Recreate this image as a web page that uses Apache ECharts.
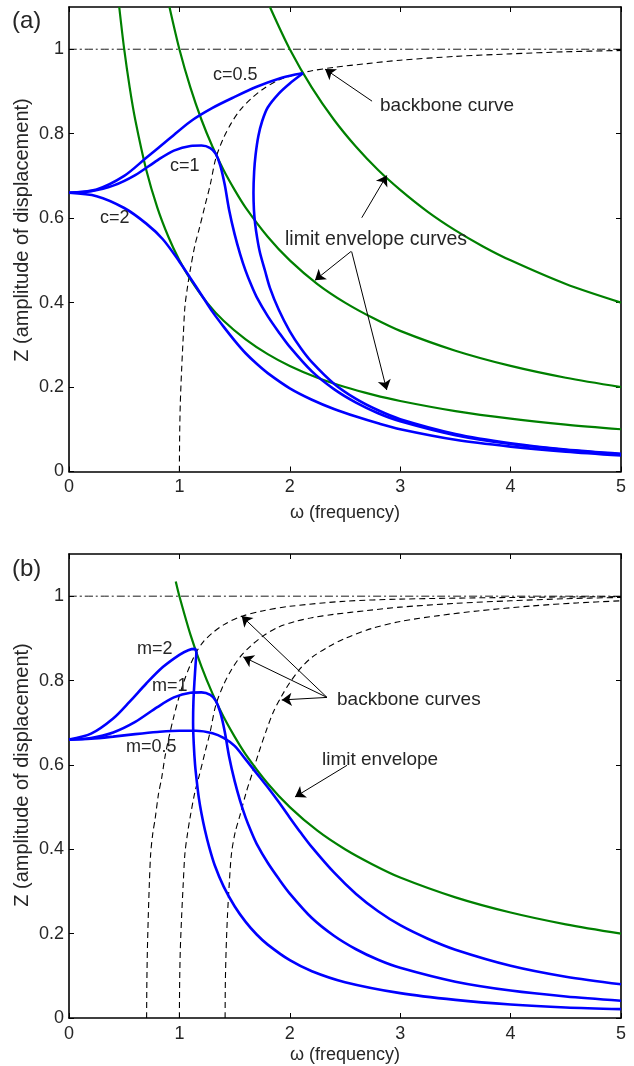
<!DOCTYPE html>
<html>
<head>
<meta charset="utf-8">
<title>Frequency response curves</title>
<script src="https://cdn.jsdelivr.net/npm/echarts@6/dist/echarts.min.js"></script>
<style>
html,body{margin:0;padding:0;background:#fff}
#chart{width:634px;height:1066px}
</style>
</head>
<body>
<div id="chart"></div>
<script>
// ticks of both panels
var xTicks = [0, 1, 2, 3, 4, 5];
var yTicks = [0, 0.2, 0.4, 0.6, 0.8, 1];
var unity = [[0, 1], [5, 1]];

// (a) response curves, [omega, Z]
var respC05Up = [[0,0.66],[0.25,0.668],[0.5,0.70],[0.7,0.743],[0.9,0.786],[1.1,0.829],[1.3,0.861],[1.5,0.887],[1.7,0.911],[1.9,0.93],[2.05,0.94],[2.12,0.943]];
var respC05Down = [[2.12,0.943],[2.0,0.919],[1.9,0.895],[1.8,0.862],[1.75,0.83],[1.715,0.794],[1.69,0.75],[1.677,0.71],[1.671,0.66],[1.675,0.62],[1.685,0.589],[1.705,0.552],[1.73,0.518],[1.775,0.476],[1.82,0.435],[1.9,0.383],[2.0,0.332],[2.1,0.292],[2.2,0.259],[2.4,0.208],[2.6,0.172],[2.8,0.145],[3.0,0.124],[3.5,0.089],[4.0,0.067],[4.5,0.052],[5.0,0.042]];
var respC1 = [[0,0.66],[0.2,0.664],[0.4,0.677],[0.6,0.702],[0.8,0.737],[0.95,0.76],[1.1,0.771],[1.2,0.772],[1.28,0.766],[1.33,0.752],[1.37,0.725],[1.41,0.68],[1.45,0.62],[1.5,0.562],[1.55,0.515],[1.6,0.475],[1.65,0.442],[1.7,0.413],[1.8,0.368],[1.9,0.33],[2.0,0.295],[2.2,0.237],[2.4,0.195],[2.6,0.163],[2.8,0.138],[3.0,0.119],[3.5,0.086],[4.0,0.065],[4.5,0.051],[5.0,0.041]];
var respC2 = [[0,0.66],[0.25,0.652],[0.5,0.624],[0.7,0.587],[0.85,0.55],[1.0,0.497],[1.1,0.458],[1.2,0.418],[1.3,0.378],[1.4,0.343],[1.5,0.31],[1.6,0.28],[1.7,0.255],[1.8,0.233],[2.0,0.197],[2.2,0.17],[2.4,0.148],[2.6,0.13],[2.8,0.114],[3.0,0.1],[3.5,0.075],[4.0,0.059],[4.5,0.047],[5.0,0.038]];
var backboneA = [[1.0,0],[1.002,0.08],[1.008,0.16],[1.02,0.24],[1.035,0.32],[1.05,0.39],[1.075,0.44],[1.1,0.48],[1.14,0.535],[1.18,0.575],[1.23,0.628],[1.28,0.68],[1.33,0.742],[1.4,0.79],[1.47,0.825],[1.55,0.856],[1.65,0.883],[1.76,0.906],[1.9,0.927],[2.05,0.94],[2.2,0.949],[2.4,0.957],[2.7,0.966],[3.0,0.974],[3.5,0.983],[4.0,0.989],[4.5,0.994],[5.0,0.997]];
var envA05 = [[0.455,1.1],[0.5,1.0],[0.55,0.909],[0.6,0.833],[0.7,0.714],[0.8,0.625],[0.9,0.556],[1.0,0.5],[1.1,0.455],[1.25,0.4],[1.4,0.357],[1.6,0.313],[1.8,0.278],[2.0,0.25],[2.25,0.222],[2.5,0.2],[2.75,0.182],[3.0,0.167],[3.5,0.143],[4.0,0.125],[4.5,0.111],[5.0,0.1]];
var envA1 = [[0.91,1.1],[1.0,1.0],[1.1,0.909],[1.2,0.833],[1.3,0.769],[1.4,0.714],[1.5,0.667],[1.6,0.625],[1.8,0.556],[2.0,0.5],[2.25,0.444],[2.5,0.4],[2.75,0.364],[3.0,0.333],[3.5,0.286],[4.0,0.25],[4.5,0.222],[5.0,0.2]];
var envA2 = [[1.82,1.1],[2.0,1.0],[2.2,0.909],[2.4,0.833],[2.6,0.769],[2.8,0.714],[3.0,0.667],[3.25,0.615],[3.5,0.571],[3.75,0.533],[4.0,0.5],[4.5,0.444],[5.0,0.4]];

// (b) response curves for m = 2, 1, 0.5
var respM2Up = [[0,0.66],[0.2,0.674],[0.4,0.71],[0.55,0.75],[0.7,0.793],[0.85,0.832],[1.0,0.861],[1.08,0.872],[1.14,0.875],[1.155,0.868]];
var respM2Down = [[1.155,0.868],[1.147,0.84],[1.137,0.80],[1.127,0.75],[1.124,0.70],[1.13,0.65],[1.142,0.60],[1.158,0.56],[1.177,0.52],[1.2,0.485],[1.23,0.447],[1.27,0.405],[1.32,0.362],[1.4,0.312],[1.5,0.265],[1.6,0.228],[1.7,0.198],[1.8,0.174],[2.0,0.137],[2.2,0.111],[2.5,0.085],[3.0,0.059],[3.5,0.043],[4.0,0.032],[4.5,0.025],[5.0,0.021]];
var respM1 = respC1; // m=1 is the c=1 curve of (a)
var respM05 = [[0,0.66],[0.2,0.662],[0.4,0.667],[0.6,0.673],[0.8,0.678],[1.0,0.681],[1.15,0.681],[1.3,0.675],[1.4,0.664],[1.5,0.645],[1.6,0.613],[1.7,0.58],[1.8,0.547],[1.9,0.512],[2.0,0.475],[2.1,0.439],[2.2,0.405],[2.4,0.345],[2.6,0.294],[2.8,0.253],[3.0,0.22],[3.25,0.188],[3.5,0.162],[4.0,0.124],[4.5,0.098],[5.0,0.08]];
var backboneM2 = [[0.703,0],[0.705,0.08],[0.71,0.16],[0.718,0.24],[0.728,0.32],[0.74,0.39],[0.76,0.44],[0.779,0.47],[0.81,0.53],[0.84,0.57],[0.87,0.62],[0.905,0.665],[0.945,0.71],[0.99,0.755],[1.04,0.797],[1.1,0.838],[1.155,0.868],[1.22,0.893],[1.3,0.913],[1.4,0.932],[1.55,0.951],[1.75,0.965],[2.0,0.976],[2.5,0.988],[3.0,0.993],[4.0,0.997],[5.0,0.999]];
var backboneM1 = backboneA;
var backboneM05 = [[1.414,0],[1.416,0.08],[1.423,0.16],[1.435,0.24],[1.452,0.32],[1.472,0.39],[1.505,0.44],[1.548,0.48],[1.605,0.535],[1.66,0.58],[1.72,0.63],[1.785,0.68],[1.85,0.725],[1.93,0.765],[2.0,0.795],[2.1,0.83],[2.2,0.855],[2.35,0.88],[2.5,0.9],[2.75,0.924],[3.0,0.94],[3.35,0.954],[3.7,0.965],[4.2,0.977],[4.6,0.984],[5.0,0.989]];
var envB = [[0.967,1.035],[1.0,1.0],[1.1,0.909],[1.2,0.833],[1.3,0.769],[1.4,0.714],[1.5,0.667],[1.6,0.625],[1.8,0.556],[2.0,0.5],[2.25,0.444],[2.5,0.4],[2.75,0.364],[3.0,0.333],[3.5,0.286],[4.0,0.25],[4.5,0.222],[5.0,0.2]];

var font = '"Liberation Sans", Arial, Helvetica, sans-serif';
var ink = '#262626';
var BLUE = '#0000ff', GREEN = '#008000';

function xAxes(grid, gap) {
    var line = {onZero: false, lineStyle: {color: '#000', width: 1.6}};
    var tick = {inside: true, length: 5, customValues: xTicks, lineStyle: {color: '#000', width: 1}};
    return [{
        gridIndex: grid, type: 'value', min: 0, max: 5, position: 'bottom',
        axisLine: line, axisTick: tick, splitLine: {show: false},
        axisLabel: {customValues: xTicks, margin: 7, color: ink, fontSize: 18, fontFamily: font},
        name: 'ω (frequency)', nameLocation: 'middle', nameGap: gap,
        nameTextStyle: {color: ink, fontSize: 18, fontFamily: font}
    }, {
        gridIndex: grid, type: 'value', min: 0, max: 5, position: 'top',
        axisLine: line, axisTick: tick, splitLine: {show: false}, axisLabel: {show: false}
    }];
}
function yAxes(grid) {
    var line = {onZero: false, lineStyle: {color: '#000', width: 1.6}};
    var tick = {inside: true, length: 5, customValues: yTicks, lineStyle: {color: '#000', width: 1}};
    return [{
        gridIndex: grid, type: 'value', min: 0, max: 1.1, position: 'left',
        axisLine: line, axisTick: tick, splitLine: {show: false},
        axisLabel: {customValues: yTicks, margin: 5, color: ink, fontSize: 18, fontFamily: font}
    }, {
        gridIndex: grid, type: 'value', min: 0, max: 1.1, position: 'right',
        axisLine: line, axisTick: tick, splitLine: {show: false}, axisLabel: {show: false}
    }];
}
function curve(data, ax, color, width, type, z) {
    return {
        type: 'line', data: data, xAxisIndex: ax, yAxisIndex: ax,
        showSymbol: false, smooth: 0.3, z: z, silent: true,
        lineStyle: {color: color, width: width, type: type}
    };
}
function arrows(pairs) {
    return {
        silent: true, symbol: ['none', 'arrow'], symbolSize: 10,
        label: {show: false}, emphasis: {disabled: true},
        lineStyle: {color: '#000', width: 1, type: 'solid'},
        data: pairs.map(function (p) { return [{coord: p[0]}, {coord: p[1]}]; })
    };
}
function txt(s, x, y, size, extra) {
    var el = {type: 'text', x: x, y: y, z: 100,
        style: {text: s, fill: ink, font: size + 'px ' + font,
            align: 'left', textAlign: 'left', verticalAlign: 'middle', textVerticalAlign: 'middle'}};
    if (extra) { for (var k in extra) el[k] = extra[k]; }
    return el;
}

var dash = [6, 4], dashDot = [8, 3, 2, 3];

var unityA = curve(unity, 0, '#000', 0.9, dashDot, 1);
unityA.markLine = arrows([
    [[2.745, 0.877], [2.319, 0.953]],
    [[2.652, 0.601], [2.878, 0.701]],
    [[2.554, 0.521], [2.228, 0.453]],
    [[2.56, 0.521], [2.878, 0.193]]
]);
var unityB = curve(unity, 2, '#000', 0.9, dashDot, 1);
unityB.markLine = arrows([
    [[2.337, 0.76], [1.564, 0.953]],
    [[2.337, 0.76], [1.579, 0.856]],
    [[2.337, 0.76], [1.927, 0.754]],
    [[2.518, 0.599], [2.047, 0.524]]
]);

var yRot = {rotation: Math.PI / 2};
function centred(el) { el.style.align = 'center'; el.style.textAlign = 'center'; return el; }

var option = {
    animation: false,
    grid: [
        {left: 69, top: 7, width: 552, height: 464.5},
        {left: 69, top: 554, width: 552, height: 464}
    ],
    xAxis: xAxes(0, 33).concat(xAxes(1, 28)),
    yAxis: yAxes(0).concat(yAxes(1)),
    series: [
        unityA,
        curve(backboneA, 0, '#000', 1.1, dash, 2),
        curve(envA05, 0, GREEN, 2.2, 'solid', 3),
        curve(envA1, 0, GREEN, 2.2, 'solid', 3),
        curve(envA2, 0, GREEN, 2.2, 'solid', 3),
        curve(respC2, 0, BLUE, 2.6, 'solid', 4),
        curve(respC1, 0, BLUE, 2.6, 'solid', 4),
        curve(respC05Up, 0, BLUE, 2.6, 'solid', 4),
        curve(respC05Down, 0, BLUE, 2.6, 'solid', 4),

        unityB,
        curve(backboneM2, 2, '#000', 1.1, dash, 2),
        curve(backboneM1, 2, '#000', 1.1, dash, 2),
        curve(backboneM05, 2, '#000', 1.1, dash, 2),
        curve(envB, 2, GREEN, 2.2, 'solid', 3),
        curve(respM05, 2, BLUE, 2.6, 'solid', 4),
        curve(respM1, 2, BLUE, 2.6, 'solid', 4),
        curve(respM2Up, 2, BLUE, 2.6, 'solid', 4),
        curve(respM2Down, 2, BLUE, 2.6, 'solid', 4)
    ],
    graphic: [
        txt('(a)', 12, 21, 24),
        txt('c=0.5', 213, 75, 18),
        txt('c=1', 170, 166, 18),
        txt('c=2', 100, 218, 18),
        txt('backbone curve', 380, 106, 19),
        txt('limit envelope curves', 285, 240, 19.5),
        centred(txt('Z (amplitude of displacement)', 22, 230, 20, yRot)),

        txt('(b)', 12, 569, 24),
        txt('m=2', 137, 649, 18),
        txt('m=1', 152, 686, 18),
        txt('m=0.5', 126, 747, 18),
        txt('backbone curves', 337, 700, 19),
        txt('limit envelope', 322, 760, 19),
        centred(txt('Z (amplitude of displacement)', 22, 775, 20, yRot))
    ]
};

var chart = echarts.init(document.getElementById('chart'));
chart.setOption(option);
</script>
</body>
</html>
